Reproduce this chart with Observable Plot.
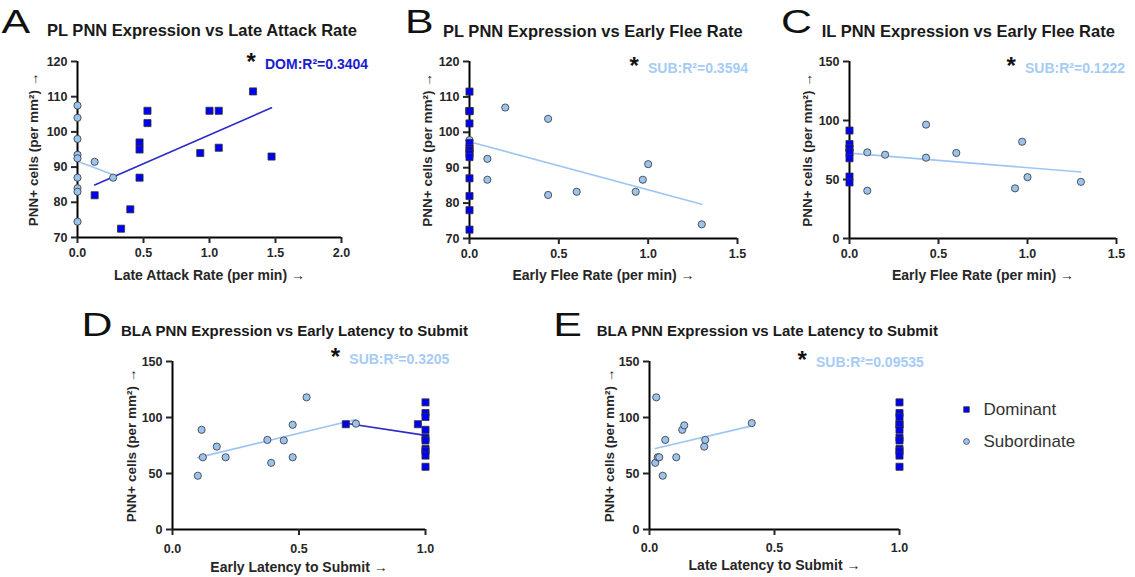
<!DOCTYPE html>
<html>
<head>
<meta charset="utf-8">
<script src="https://cdn.jsdelivr.net/npm/d3@7"></script>
<script src="https://cdn.jsdelivr.net/npm/@observablehq/plot@0.6"></script>
<style>
html,body{margin:0;padding:0;background:#fff;overflow:hidden;}
#root{display:grid;width:1135px;height:577px;}
#root > svg{grid-area:1 / 1;align-self:start;justify-self:start;}
svg.panel{font-family:"Liberation Sans",Arial,sans-serif;font-size:12.5px;font-weight:bold;color:#262626;}
svg.legend{font-family:"Liberation Sans",Arial,sans-serif;font-weight:normal;}
svg g[aria-label="x-axis label"]{font-size:14px;font-weight:700;}
svg g[aria-label="y-axis label"]{font-size:13.5px;font-weight:700;}
</style>
</head>
<body>
<div id="root"></div>
<script>
// ---------- data ----------
const domFill = "#0000f0", subFill = "#9cc3ee";
const domLine = "#2b2bc7", subLine = "#9dc6f3";
const domText = "#1c1ccf", subText = "#a6cbf5";
const yTitle = "PNN+ cells (per mm²)";

// Panel A: PL vs Late Attack Rate
const aDomX = [0.13,0.33,0.40,0.47,0.47,0.47,0.53,0.53,0.93,1.0,1.07,1.07,1.33,1.47];
const aDomY = [82,72.5,78,97,95,87,106,102.5,94,106,106,95.5,111.5,93];
const aSubX = [0,0,0,0,0,0,0,0,0,0.13,0.27];
const aSubY = [107.5,104,98,93.5,92.5,87,84,83,74.5,91.5,87];

// Panel B: PL vs Early Flee Rate
const bDomX = [0,0,0,0,0,0,0,0,0,0,0,0,0,0];
const bDomY = [111.5,106,106,106,102.5,97,95.5,95,94,93,87,82,78,72.5];
const bSubX = [0,0.10,0.10,0.20,0.44,0.44,0.60,0.93,0.97,1.0,1.3];
const bSubY = [97.8,92.5,86.6,107,103.8,82.3,83.2,83.2,86.6,91,74];

// Panel C: IL vs Early Flee Rate
const cDomX = [0,0,0,0,0,0,0];
const cDomY = [91.5,80,76.5,73,68,52.5,47.5];
const cSubX = [0,0.10,0.20,0.10,0.43,0.43,0.60,0.97,0.93,1.0,1.30];
const cSubY = [75,73,71,40.5,96.5,68.5,72.5,82,42.5,52,48];

// Panel D: BLA vs Early Latency to Submit
const dDomX = [0.685,0.97,1,1,1,1,1,1,1,1,1,1];
const dDomY = [94,94,113.5,104,100.5,89,82,79.5,72,70,66,56];
const dSubX = [0.10,0.115,0.12,0.175,0.21,0.375,0.39,0.44,0.475,0.475,0.53,0.725];
const dSubY = [48,89,64.5,74,64.5,80,59.5,79.5,93.5,64.5,118,94.5];

// Panel E: BLA vs Late Latency to Submit
const eDomX = [1,1,1,1,1,1,1,1,1,1,1,1];
const eDomY = [113.5,104,100.5,94,94,89,82,79.5,72,70,66,56];
const eSubX = [0.027,0.023,0.033,0.039,0.053,0.063,0.107,0.131,0.139,0.219,0.223,0.409];
const eSubY = [118,59.5,64.5,64.5,48,80,64.5,89,93,74,80,95];

const ticksPL = [70,80,90,100,110,120];
const ticks150 = [0,50,100,150];
const xTicks2 = [0,0.5,1,1.5,2];
const xTicks15 = [0,0.5,1,1.5];
const xTicks1 = [0,0.5,1];
const legendLabels = ["Dominant","Subordinate"];

const pts = (xs, ys) => xs.map((x, i) => ({x, y: ys[i]}));
const FONT = "'Liberation Sans', Arial, sans-serif";
const root = document.getElementById("root");

// text layer (titles, panel letters, R² notes)
const textLayer = d3.select(root).append("svg")
  .attr("width", 1135).attr("height", 577).attr("font-family", FONT);

function place(chart, left, top, cls) {
  chart.style.marginLeft = left + "px";
  chart.style.marginTop = top + "px";
  chart.style.maxWidth = "none";
  chart.style.overflow = "visible";
  if (cls) chart.classList.add(cls);
  root.appendChild(chart);
}

const ML = 90, MR = 18, MT = 15, MB = 55;
function panel(p) {
  const W = p.R - p.L + ML + MR, H = p.B - p.T + MT + MB;
  const dom = pts(p.domX, p.domY), sub = pts(p.subX, p.subY);
  const [x0] = p.xDomain, [y0] = p.yDomain;
  const marks = [
    Plot.ruleX([x0], {stroke: "black", strokeWidth: 2}),
    Plot.ruleY([y0], {stroke: "black", strokeWidth: 2}),
    Plot.axisY({ticks: p.yTicks, tickSize: 6, tickPadding: 4, tickFormat: d => String(d), strokeWidth: 2,
      label: yTitle, labelAnchor: "center", labelOffset: p.yLab}),
    Plot.axisX({ticks: p.xTicks, tickSize: 6, tickPadding: p.xPad, tickFormat: d3.format(".1f"), strokeWidth: 2,
      label: p.xTitle, labelAnchor: "center", labelOffset: p.xLab})
  ];
  if (p.subFit) marks.push(Plot.linearRegressionY(sub, {x: "x", y: "y", stroke: subLine, strokeWidth: 1.6, ci: 0}));
  if (p.domFit) marks.push(Plot.linearRegressionY(dom, {x: "x", y: "y", stroke: domLine, strokeWidth: 1.6, ci: 0}));
  marks.push(Plot.dot(sub, {x: "x", y: "y", r: 3.6, fill: subFill, stroke: "#333", strokeWidth: 0.8}));
  marks.push(Plot.dot(dom, {x: "x", y: "y", r: 4, symbol: "square", fill: domFill, stroke: "#333", strokeWidth: 0.8}));
  const chart = Plot.plot({
    width: W, height: H, marginLeft: ML, marginRight: MR, marginTop: MT, marginBottom: MB,
    x: {domain: p.xDomain}, y: {domain: p.yDomain},
    style: {background: "transparent", overflow: "visible"},
    marks
  });
  place(chart, p.L - ML, p.T - MT, "panel");
}

function svgText(txt, x, y, o) {
  const t = textLayer.append("text").text(txt)
    .attr("font-family", FONT).attr("font-size", o.size).attr("font-weight", o.weight || "bold")
    .attr("fill", o.fill || "#1a1a1a");
  if (o.transform) t.attr("transform", o.transform); else t.attr("x", x).attr("y", y);
  return t;
}
function header(letter, lx, lBase, title, tx, tBase, fs) {
  svgText(letter, 0, 0, {size: 33, weight: "normal", fill: "#111", transform: `translate(${lx},${lBase}) scale(1.3,1)`});
  svgText(title, tx, tBase, {size: fs});
}
function r2(txt, color, tx, base) {
  svgText("*", tx - 18.5, base + 1, {size: 24, fill: "#111"});
  svgText(txt, tx, base, {size: 14, fill: color});
}

panel({L: 77, R: 341, T: 61, B: 237, xDomain: [0, 2], yDomain: [70, 120], xTicks: xTicks2, yTicks: ticksPL,
  domX: aDomX, domY: aDomY, subX: aSubX, subY: aSubY, domFit: true, subFit: true,
  xTitle: "Late Attack Rate (per min)", xPad: 5, xLab: 42, yLab: 49});
panel({L: 469, R: 737, T: 61, B: 238, xDomain: [0, 1.5], yDomain: [70, 120], xTicks: xTicks15, yTicks: ticksPL,
  domX: bDomX, domY: bDomY, subX: bSubX, subY: bSubY, domFit: false, subFit: true,
  xTitle: "Early Flee Rate (per min)", xPad: 5, xLab: 41, yLab: 47});
panel({L: 849, R: 1116, T: 61, B: 238, xDomain: [0, 1.5], yDomain: [0, 150], xTicks: xTicks15, yTicks: ticks150,
  domX: cDomX, domY: cDomY, subX: cSubX, subY: cSubY, domFit: false, subFit: true,
  xTitle: "Early Flee Rate (per min)", xPad: 5, xLab: 41, yLab: 47});
panel({L: 172, R: 425, T: 361, B: 529, xDomain: [0, 1], yDomain: [0, 150], xTicks: xTicks1, yTicks: ticks150,
  domX: dDomX, domY: dDomY, subX: dSubX, subY: dSubY, domFit: true, subFit: true,
  xTitle: "Early Latency to Submit", xPad: 9, xLab: 42, yLab: 46});
panel({L: 649, R: 899, T: 361, B: 529, xDomain: [0, 1], yDomain: [0, 150], xTicks: xTicks1, yTicks: ticks150,
  domX: eDomX, domY: eDomY, subX: eSubX, subY: eSubY, domFit: false, subFit: true,
  xTitle: "Late Latency to Submit", xPad: 8, xLab: 40, yLab: 45});

header("A", 1.5, 33.3, "PL PNN Expression vs Late Attack Rate", 47, 36, 16.5);
header("B", 405, 33.3, "PL PNN Expression vs Early Flee Rate", 443, 36.7, 16.5);
header("C", 781, 33.3, "IL PNN Expression vs Early Flee Rate", 821.7, 36.7, 16.5);
header("D", 81.6, 336, "BLA PNN Expression vs Early Latency to Submit", 121, 336, 15);
header("E", 553.3, 335.7, "BLA PNN Expression vs Late Latency to Submit", 596.7, 336, 15);

r2("DOM:R²=0.3404", domText, 265, 69.3);
r2("SUB:R²=0.3594", subText, 648, 73);
r2("SUB:R²=0.1222", subText, 1025, 73);
r2("SUB:R²=0.3205", subText, 349.3, 364);
r2("SUB:R²=0.09535", subText, 816, 366.7);

// legend
const leg = Plot.plot({
  width: 185, height: 70, marginLeft: 16, marginRight: 0, marginTop: 19, marginBottom: 19,
  y: {type: "point", domain: legendLabels, padding: 0, axis: null},
  style: {background: "transparent", overflow: "visible"},
  marks: [
    Plot.dot(legendLabels, {y: d => d, frameAnchor: "left", r: d => d === "Dominant" ? 3.4 : 2.9,
      symbol: d => d === "Dominant" ? "square" : "circle",
      fill: d => d === "Dominant" ? domFill : subFill, stroke: "#333", strokeWidth: 0.7}),
    Plot.text(legendLabels, {y: d => d, text: d => d, frameAnchor: "left", dx: 17, textAnchor: "start",
      fontSize: 17, fill: "#333"})
  ]
});
place(leg, 950, 390, "legend");
</script>
</body>
</html>
